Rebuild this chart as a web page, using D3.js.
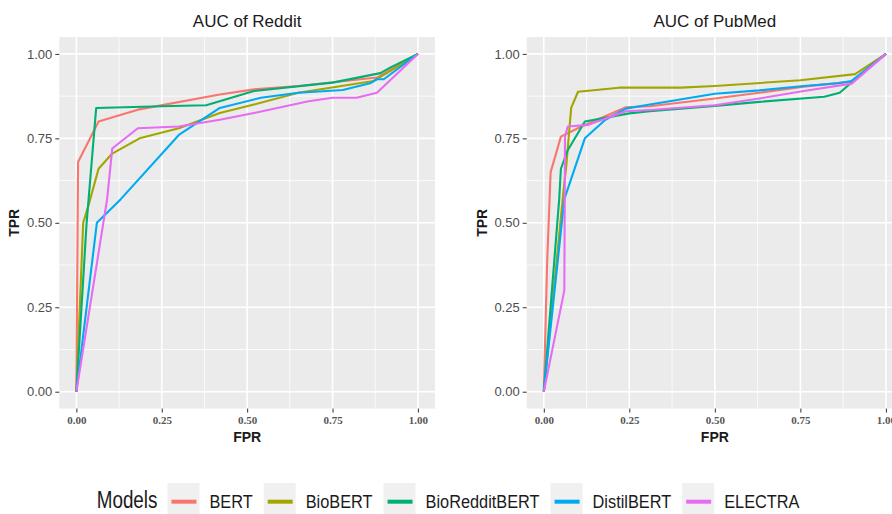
<!DOCTYPE html>
<meta charset="utf-8">
<html>
<head>
    <script src="https://d3js.org/d3.v7.min.js"></script>
    <style>
        body { margin: 0; background: white; }
        svg { display: block; }
        .ytick text { font-family: "Liberation Sans", Arial, sans-serif; font-size: 13px; fill: #4d4d4d; }
        .xtick text { font-family: "Liberation Serif", "Times New Roman", serif; font-size: 11px; font-weight: bold; fill: #555; }
        .tick line { stroke: #333; }
    </style>
</head>
<body>
<div id="chart"></div>
<script>
    // model names + ggplot default hues
    var models = ["BERT", "BioBERT", "BioRedditBERT", "DistilBERT", "ELECTRA"];
    var colors = ["#F8766D", "#A3A500", "#00AF74", "#00AAF2", "#E76BF3"];
    var ticks = [0, 0.25, 0.5, 0.75, 1];

    // ROC points [FPR, TPR] - Reddit
    var redditBERT = [[0, 0], [0.005, 0.68], [0.065, 0.80], [0.18, 0.835], [0.42, 0.88], [0.52, 0.895], [0.65, 0.905], [0.88, 0.93], [1, 1]];
    var redditBioBERT = [[0, 0], [0.02, 0.50], [0.035, 0.55], [0.065, 0.66], [0.105, 0.705], [0.185, 0.75], [0.3, 0.78], [0.42, 0.825], [0.52, 0.85], [0.65, 0.885], [0.87, 0.92], [0.92, 0.95], [1, 1]];
    var redditBioReddit = [[0, 0], [0.03, 0.50], [0.058, 0.84], [0.25, 0.845], [0.38, 0.848], [0.52, 0.89], [0.75, 0.915], [0.89, 0.943], [0.92, 0.96], [1, 1]];
    var redditDistil = [[0, 0], [0.06, 0.50], [0.13, 0.57], [0.3, 0.76], [0.42, 0.84], [0.54, 0.87], [0.65, 0.885], [0.78, 0.893], [0.86, 0.913], [0.88, 0.925], [0.9, 0.925], [1, 1]];
    var redditELECTRA = [[0, 0], [0.09, 0.57], [0.105, 0.72], [0.18, 0.78], [0.3, 0.785], [0.42, 0.805], [0.52, 0.825], [0.68, 0.86], [0.75, 0.87], [0.82, 0.87], [0.88, 0.885], [1, 1]];

    // PubMed
    var pubmedBERT = [[0, 0], [0.01, 0.39], [0.02, 0.65], [0.05, 0.755], [0.11, 0.785], [0.24, 0.842], [0.31, 0.845], [0.5, 0.868], [0.63, 0.885], [0.76, 0.903], [0.9, 0.918], [1, 1]];
    var pubmedBioBERT = [[0, 0], [0.06, 0.62], [0.065, 0.66], [0.08, 0.84], [0.1, 0.888], [0.22, 0.9], [0.4, 0.9], [0.5, 0.905], [0.75, 0.922], [0.91, 0.94], [1, 1]];
    var pubmedBioReddit = [[0, 0], [0.045, 0.57], [0.05, 0.66], [0.07, 0.715], [0.12, 0.80], [0.25, 0.824], [0.31, 0.83], [0.5, 0.846], [0.63, 0.858], [0.82, 0.873], [0.865, 0.885], [0.905, 0.92], [1, 1]];
    var pubmedDistil = [[0, 0], [0.06, 0.57], [0.12, 0.75], [0.18, 0.805], [0.24, 0.838], [0.31, 0.85], [0.5, 0.882], [0.63, 0.892], [0.76, 0.905], [0.86, 0.913], [0.9, 0.92], [1, 1]];
    var pubmedELECTRA = [[0, 0], [0.06, 0.30], [0.062, 0.755], [0.07, 0.785], [0.13, 0.79], [0.24, 0.83], [0.31, 0.834], [0.5, 0.848], [0.63, 0.868], [0.76, 0.89], [0.9, 0.912], [1, 1]];

    var panels = [
        {title: "AUC of Reddit", left: 59.3, right: 435, series: [redditBERT, redditBioBERT, redditBioReddit, redditDistil, redditELECTRA]},
        {title: "AUC of PubMed", left: 526.7, right: 903, series: [pubmedBERT, pubmedBioBERT, pubmedBioReddit, pubmedDistil, pubmedELECTRA]}
    ];

    var width = 892, height = 514;
    var plotTop = 37, plotBottom = 408.6;

    var svg = d3.select("#chart").append("svg")
        .attr("width", width)
        .attr("height", height);

    var y = d3.scaleLinear().domain([-0.05, 1.05]).range([plotBottom, plotTop]);
    var minor = [0.125, 0.375, 0.625, 0.875];

    panels.forEach(function(p) {
        var x = d3.scaleLinear().domain([-0.05, 1.05]).range([p.left, p.right]);
        var g = svg.append("g");

        g.append("rect")
            .attr("x", p.left).attr("y", plotTop)
            .attr("width", p.right - p.left).attr("height", plotBottom - plotTop)
            .attr("fill", "#ebebeb");

        // grid
        minor.forEach(function(v) {
            g.append("line").attr("x1", p.left).attr("x2", p.right)
                .attr("y1", y(v)).attr("y2", y(v))
                .attr("stroke", "white").attr("stroke-width", 0.8);
            g.append("line").attr("y1", plotTop).attr("y2", plotBottom)
                .attr("x1", x(v)).attr("x2", x(v))
                .attr("stroke", "white").attr("stroke-width", 0.8);
        });
        ticks.forEach(function(v) {
            g.append("line").attr("x1", p.left).attr("x2", p.right)
                .attr("y1", y(v)).attr("y2", y(v))
                .attr("stroke", "white").attr("stroke-width", 1.6);
            g.append("line").attr("y1", plotTop).attr("y2", plotBottom)
                .attr("x1", x(v)).attr("x2", x(v))
                .attr("stroke", "white").attr("stroke-width", 1.6);
        });

        var line = d3.line()
            .x(function(d) { return x(d[0]); })
            .y(function(d) { return y(d[1]); });

        g.selectAll(".roc")
            .data(p.series)
            .enter()
            .append("path")
            .attr("class", "roc")
            .attr("d", line)
            .attr("fill", "none")
            .attr("stroke", function(d, i) { return colors[i]; })
            .attr("stroke-width", 2.1)
            .attr("stroke-linejoin", "round");

        // axes
        var ya = g.append("g")
            .attr("class", "ytick")
            .attr("transform", "translate(" + p.left + ",0)")
            .call(d3.axisLeft(y).tickValues(ticks).tickFormat(d3.format(".2f")).tickSize(4).tickPadding(3));
        ya.select(".domain").remove();

        var xa = g.append("g")
            .attr("class", "xtick")
            .attr("transform", "translate(0," + plotBottom + ")")
            .call(d3.axisBottom(x).tickValues(ticks).tickFormat(d3.format(".2f")).tickSize(4).tickPadding(4));
        xa.select(".domain").remove();

        var cx = (p.left + p.right) / 2;
        g.append("text")
            .attr("x", cx).attr("y", 26.5)
            .attr("text-anchor", "middle")
            .style("font-family", "Liberation Sans, Arial, sans-serif")
            .style("font-size", "17px")
            .attr("fill", "#1a1a1a")
            .text(p.title);

        g.append("text")
            .attr("x", x(0.5)).attr("y", 442)
            .attr("text-anchor", "middle")
            .style("font-family", "Liberation Sans, Arial, sans-serif")
            .style("font-size", "14px")
            .style("font-weight", "bold")
            .attr("fill", "#1a1a1a")
            .text("FPR");

        g.append("text")
            .attr("transform", "translate(" + (p.left - 40) + "," + y(0.5) + ") rotate(-90)")
            .attr("text-anchor", "middle")
            .style("font-family", "Liberation Sans, Arial, sans-serif")
            .style("font-size", "14px")
            .style("font-weight", "bold")
            .attr("fill", "#1a1a1a")
            .text("TPR");
    });

    // legend (condensed text via horizontal scale)
    var legend = svg.append("g");
    var squeeze = 0.86;
    var lx = 96.7, base = 508;
    var ttl = legend.append("text")
        .attr("transform", "translate(" + lx + "," + base + ") scale(0.82,1)")
        .style("font-family", "Liberation Sans, Arial, sans-serif")
        .style("font-size", "23px")
        .attr("fill", "#1a1a1a")
        .text("Models");
    lx += ttl.node().getComputedTextLength() * 0.82 + 10;

    models.forEach(function(m, i) {
        legend.append("rect")
            .attr("x", lx).attr("y", 483)
            .attr("width", 32).attr("height", 38)
            .attr("fill", "#f0f0f0");
        legend.append("line")
            .attr("x1", lx + 4).attr("x2", lx + 29)
            .attr("y1", 501.7).attr("y2", 501.7)
            .attr("stroke", colors[i]).attr("stroke-width", 4);
        var t = legend.append("text")
            .attr("transform", "translate(" + (lx + 42) + "," + base + ") scale(" + squeeze + ",1)")
            .style("font-family", "Liberation Sans, Arial, sans-serif")
            .style("font-size", "19px")
            .attr("fill", "#1a1a1a")
            .text(m);
        lx += 42 + t.node().getComputedTextLength() * squeeze + 11;
    });
</script>
</body>
</html>
